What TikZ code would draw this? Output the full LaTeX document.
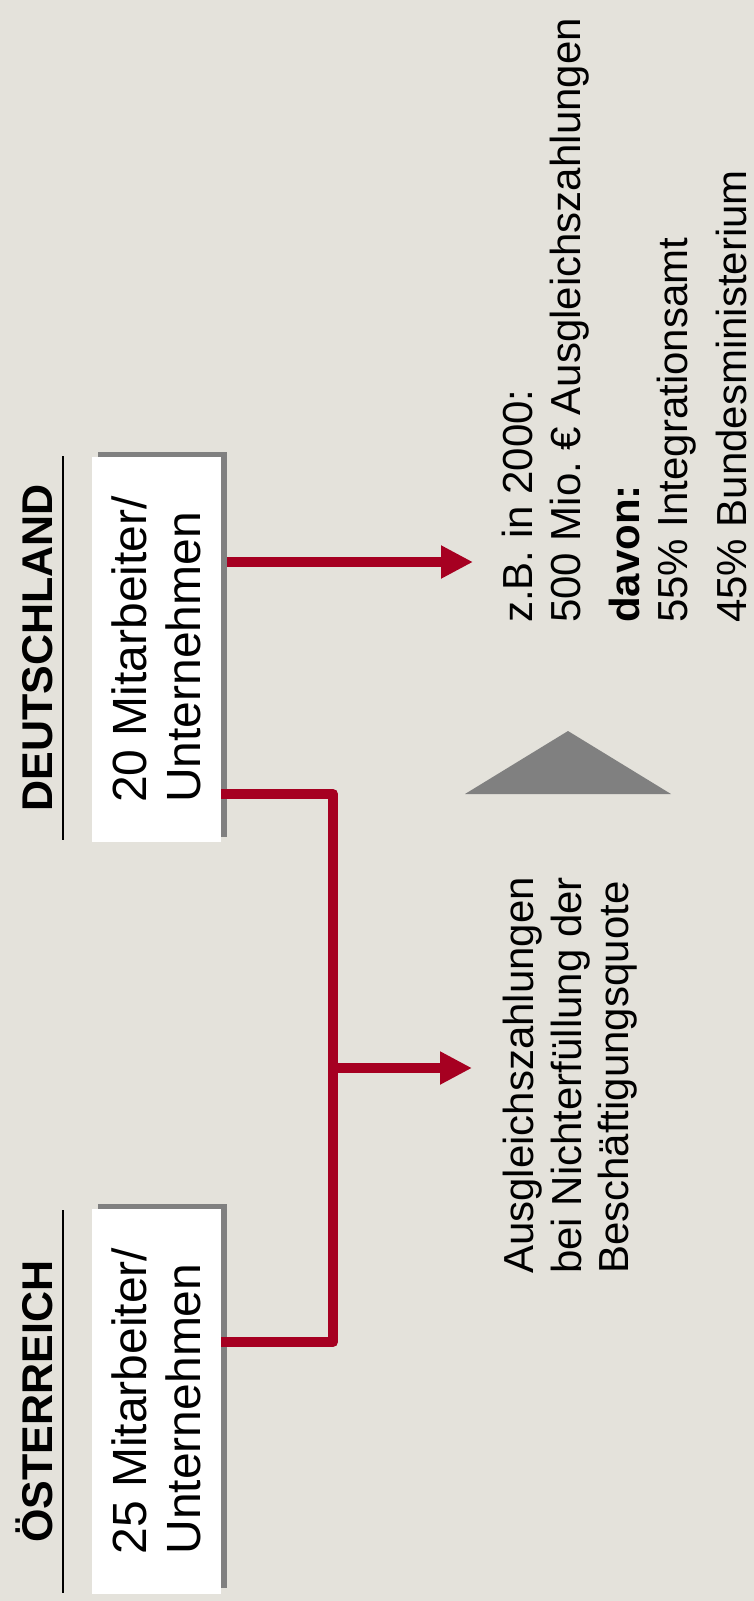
\documentclass[tikz,border=0pt]{standalone}
\usepackage{fontspec}
\setmainfont{Liberation Sans}
\usetikzlibrary{arrows.meta}
\definecolor{bgsand}{HTML}{E4E2DB}
\definecolor{darkred}{HTML}{A60021}
\definecolor{shadowgray}{HTML}{808080}

\begin{document}
\begin{tikzpicture}[x=1pt,y=-1pt,
  title/.style={rotate=90,inner sep=0pt,font=\fontsize{43}{50}\selectfont\bfseries},
  box/.style={rotate=90,fill=white,inner sep=0pt,minimum width=385pt,minimum height=129pt,align=left,font=\fontsize{48}{54}\selectfont},
  note/.style={rotate=90,inner sep=0pt,align=left,font=\fontsize{42}{47.5}\selectfont},
  redline/.style={draw=darkred,line width=10pt,line join=round},
  redarrow/.style={redline,-{Triangle[length=32pt,width=31pt]}}]

\path[use as bounding box,fill=bgsand] (0,0) rectangle (754,1601);

% Deutschland
\node[title,anchor=base] (detitle) at (52,648) {DEUTSCHLAND};
\draw[line width=2.5pt] (63,456) -- (63,840);
\fill[shadowgray] (98,452) rectangle (227,837);
\node[box] (de) at (156.5,649.5) {20 Mitarbeiter/\\Unternehmen};

% Oesterreich
\node[title,anchor=base] (attitle) at (52,1401.5) {ÖSTERREICH};
\draw[line width=2.5pt] (63,1210) -- (63,1593);
\fill[shadowgray] (98,1204) rectangle (227,1588);
\node[box] (at) at (156.5,1401) {25 Mitarbeiter/\\Unternehmen};

% rechte Seite
\node[note,anchor=north west] (facts) at (502,623) {z.B. in 2000:\\500 Mio.\ € Ausgleichszahlungen\\[12pt]\textbf{davon:}\\55\% Integrationsamt\\[12pt]45\% Bundesministerium};
\node[note,anchor=north west] (quota) at (503,1274) {Ausgleichszahlungen\\bei Nichterfüllung der\\Beschäftigungsquote};
\fill[shadowgray] (465,794) -- (568,731) -- (671,794) -- cycle;

\coordinate (tipde) at (473,562);
\coordinate (tipat) at (472,1068);
\coordinate (bar) at (333,794);
\coordinate (barend) at (333,1342);

\draw[redarrow,shorten <=6pt] (de.south |- tipde) -- (tipde);
\draw[redline] (de.south |- bar) -- (bar) -- (barend) -- (at.south |- barend);
\draw[redarrow] (bar |- tipat) -- (tipat);

\end{tikzpicture}
\end{document}
